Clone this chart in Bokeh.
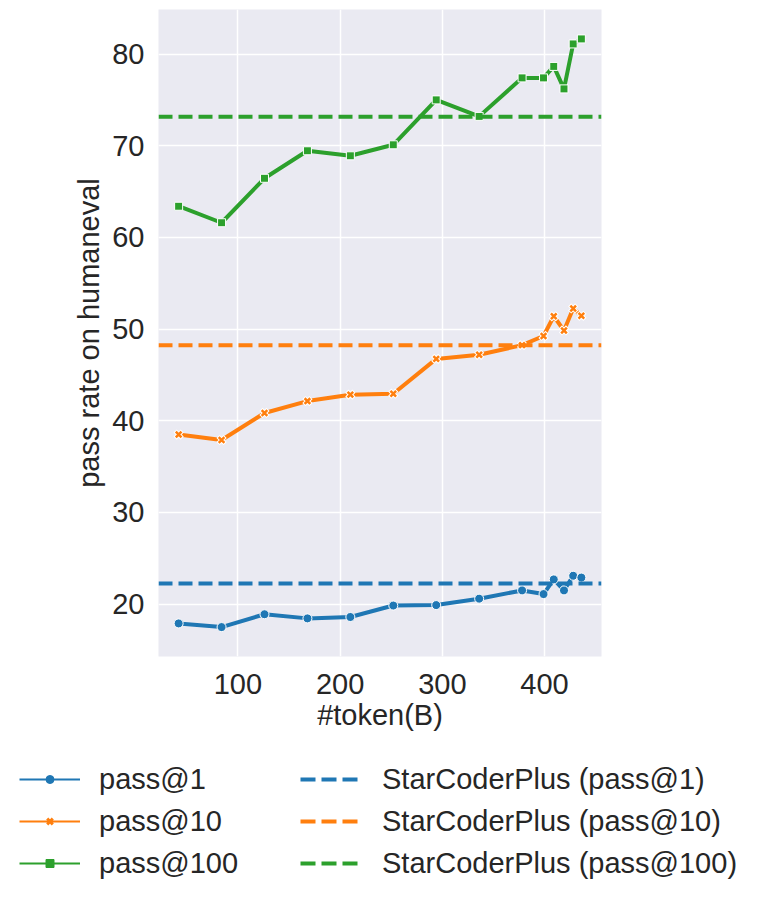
from bokeh.plotting import figure
from bokeh.models import Range1d, Span, Legend, LegendItem, FixedTicker
from bokeh.embed import file_html
from bokeh.resources import INLINE

# ---------------- data ----------------
tokens = [42, 84, 126, 168, 210, 252, 294, 336, 378, 399, 409, 419, 428, 436]
pass1 = [17.9, 17.5, 18.9, 18.45, 18.6, 19.85, 19.9, 20.6, 21.5, 21.1, 22.7, 21.5, 23.1, 22.9]
pass10 = [38.5, 37.9, 40.85, 42.15, 42.85, 42.95, 46.75, 47.2, 48.25, 49.25, 51.4, 49.85, 52.25, 51.45]
pass100 = [63.4, 61.6, 66.45, 69.45, 68.9, 70.1, 75.0, 73.2, 77.4, 77.4, 78.65, 76.2, 81.1, 81.65]
series_names = ["pass@1", "pass@10", "pass@100"]
baseline_names = ["StarCoderPlus (pass@1)", "StarCoderPlus (pass@10)", "StarCoderPlus (pass@100)"]
baseline_values = [22.25, 48.25, 73.15]
x_ticks = [100, 200, 300, 400]
y_ticks = [20, 30, 40, 50, 60, 70, 80]
x_label = "#token(B)"
y_label = "pass rate on humaneval"

colors = ["#1f77b4", "#ff7f0e", "#2ca02c"]
markers = ["circle", "x", "square"]
FONT = "Liberation Sans"
TXT = "#262626"
NAN = float("nan")

series = [pass1, pass10, pass100]
allv = pass1 + pass10 + pass100
xm = 0.05 * (max(tokens) - min(tokens))
ym = 0.05 * (max(allv) - min(allv))

W = 745
p = figure(width=W, height=745, output_backend="svg", toolbar_location=None,
           x_range=Range1d(min(tokens) - xm, max(tokens) + xm),
           y_range=Range1d(min(allv) - ym, max(allv) + ym),
           min_border_left=158, min_border_right=144, min_border_top=9, min_border_bottom=89,
           background_fill_color="#EAEAF2", border_fill_color="white", outline_line_color=None)

for ax in (p.xaxis[0], p.yaxis[0]):
    ax.axis_line_color = None
    ax.major_tick_line_color = None
    ax.minor_tick_line_color = None
    ax.major_tick_out = 0
    ax.major_label_text_font = FONT
    ax.major_label_text_font_size = "29px"
    ax.major_label_text_color = TXT
    ax.axis_label_text_font = FONT
    ax.axis_label_text_font_size = "29px"
    ax.axis_label_text_font_style = "normal"
    ax.axis_label_text_color = TXT

p.xaxis.ticker = FixedTicker(ticks=x_ticks)
p.yaxis.ticker = FixedTicker(ticks=y_ticks)
p.xaxis.axis_label = x_label
p.yaxis.axis_label = y_label
p.xaxis.major_label_standoff = 17
p.xaxis.axis_label_standoff = 2
p.yaxis.major_label_standoff = 14
p.yaxis.axis_label_standoff = 4

p.grid.grid_line_color = "white"
p.grid.grid_line_width = 1.5

# baselines
for v, c in zip(baseline_values, colors):
    p.add_layout(Span(location=v, dimension="width", line_color=c, line_width=4, line_dash="14 6"))

# series
for ys, c, m in zip(series, colors, markers):
    p.line(tokens, ys, line_color=c, line_width=4)
    if m == "x":
        p.scatter(tokens, ys, marker="x", size=10, line_color="white", line_width=4.5)
        p.scatter(tokens, ys, marker="x", size=8, line_color=c, line_width=2.5)
    else:
        p.scatter(tokens, ys, marker=m, size=9 if m == "circle" else 8,
                  fill_color=c, line_color="white", line_width=1)

# ---------------- legend figure (separate root, no frame alignment) ----------------
lf = figure(width=W, height=150, output_backend="svg", toolbar_location=None,
            x_axis_type=None, y_axis_type=None, x_range=Range1d(0, 1), y_range=Range1d(0, 1),
            min_border=0, outline_line_color=None,
            background_fill_color="white", border_fill_color="white")
lf.grid.visible = False

items1, items2 = [], []
for name, c, m in zip(series_names, colors, markers):
    l = lf.line(x=[NAN], y=[NAN], line_color=c, line_width=1.8)
    if m == "x":
        s = lf.scatter(x=[NAN], y=[NAN], marker="x", line_color=c, line_width=3)
    else:
        s = lf.scatter(x=[NAN], y=[NAN], marker=m, fill_color=c, line_color=c)
    items1.append(LegendItem(label=name, renderers=[l, s]))
for name, c in zip(baseline_names, colors):
    l = lf.line(x=[NAN], y=[NAN], line_color=c, line_width=4, line_dash="15 6")
    items2.append(LegendItem(label=name, renderers=[l]))

def mk_legend(items, loc, gw, standoff):
    return Legend(items=items, location=loc, padding=0, margin=0, spacing=6,
                  glyph_width=gw, glyph_height=20, label_height=36, label_standoff=standoff,
                  label_text_font=FONT, label_text_font_size="29px", label_text_color=TXT,
                  border_line_alpha=0, background_fill_alpha=0)

lf.add_layout(mk_legend(items1, (19, 14), 61, 19))
lf.add_layout(mk_legend(items2, (300, 14), 58, 24))

open("out.html", "w").write(file_html([p, lf], INLINE))
